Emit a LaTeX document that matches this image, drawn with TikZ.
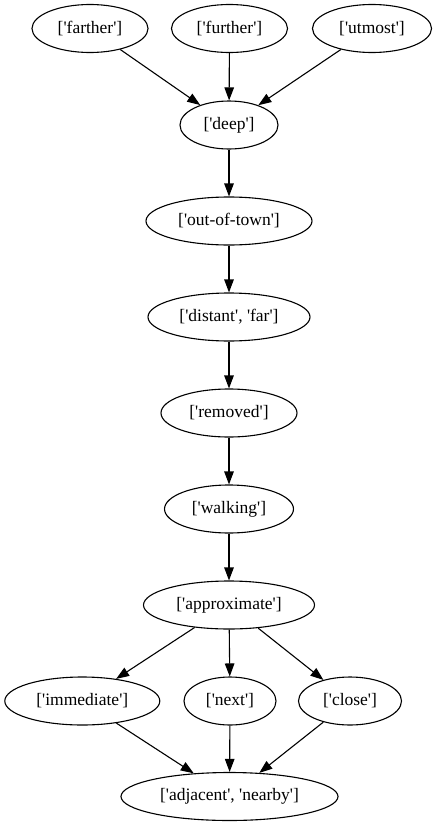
\documentclass[tikz,border=0pt]{standalone}
\usepackage{fontspec}
\setmainfont{Liberation Serif}[Ligatures=TeXOff]
\usetikzlibrary{shapes.geometric,arrows.meta}
\begin{document}
\begin{tikzpicture}[x=1pt,y=-1pt,
  ell/.style={ellipse,draw,line width=1.1pt,inner sep=0pt,
    minimum height=48pt,minimum width=#1,
    font=\fontsize{17.5}{20}\selectfont},
  edge/.style={line width=1.1pt,-{Triangle[length=13pt,width=9.5pt]}}]
\useasboundingbox (0,0) rectangle (435,827);
% top rank
\node[ell=116pt] (farther) at (90,28.5) {['farther']};
\node[ell=116pt] (further) at (229.5,28.5) {['further']};
\node[ell=119pt] (utmost) at (372,28.5) {['utmost']};
% central chain
\node[ell=98pt] (deep) at (229,125) {['deep']};
\node[ell=166pt] (town) at (229,221) {['out-of-town']};
\node[ell=162pt] (distant) at (229,317) {['distant', 'far']};
\node[ell=136pt] (removed) at (229,413) {['removed']};
\node[ell=129pt] (walking) at (229,509) {['walking']};
\node[ell=171pt] (approx) at (229,605) {['approximate']};
% lower rank
\node[ell=155pt] (immediate) at (82.3,701) {['immediate']};
\node[ell=92pt] (next) at (230,701) {['next']};
\node[ell=103pt] (close) at (350,701) {['close']};
\node[ell=217pt] (adjacent) at (229.5,796.5) {['adjacent', 'nearby']};
% connectors
\draw[edge] (farther) -- (deep);
\draw[edge] (further) -- (deep);
\draw[edge] (utmost) -- (deep);
\draw[edge] (deep) -- (town);
\draw[edge] (town) -- (distant);
\draw[edge] (distant) -- (removed);
\draw[edge] (removed) -- (walking);
\draw[edge] (walking) -- (approx);
\draw[edge] (approx) -- (immediate);
\draw[edge] (approx) -- (next);
\draw[edge] (approx) -- (close);
\draw[edge] (immediate) -- (adjacent);
\draw[edge] (next) -- (adjacent);
\draw[edge] (close) -- (adjacent);
\end{tikzpicture}
\end{document}
